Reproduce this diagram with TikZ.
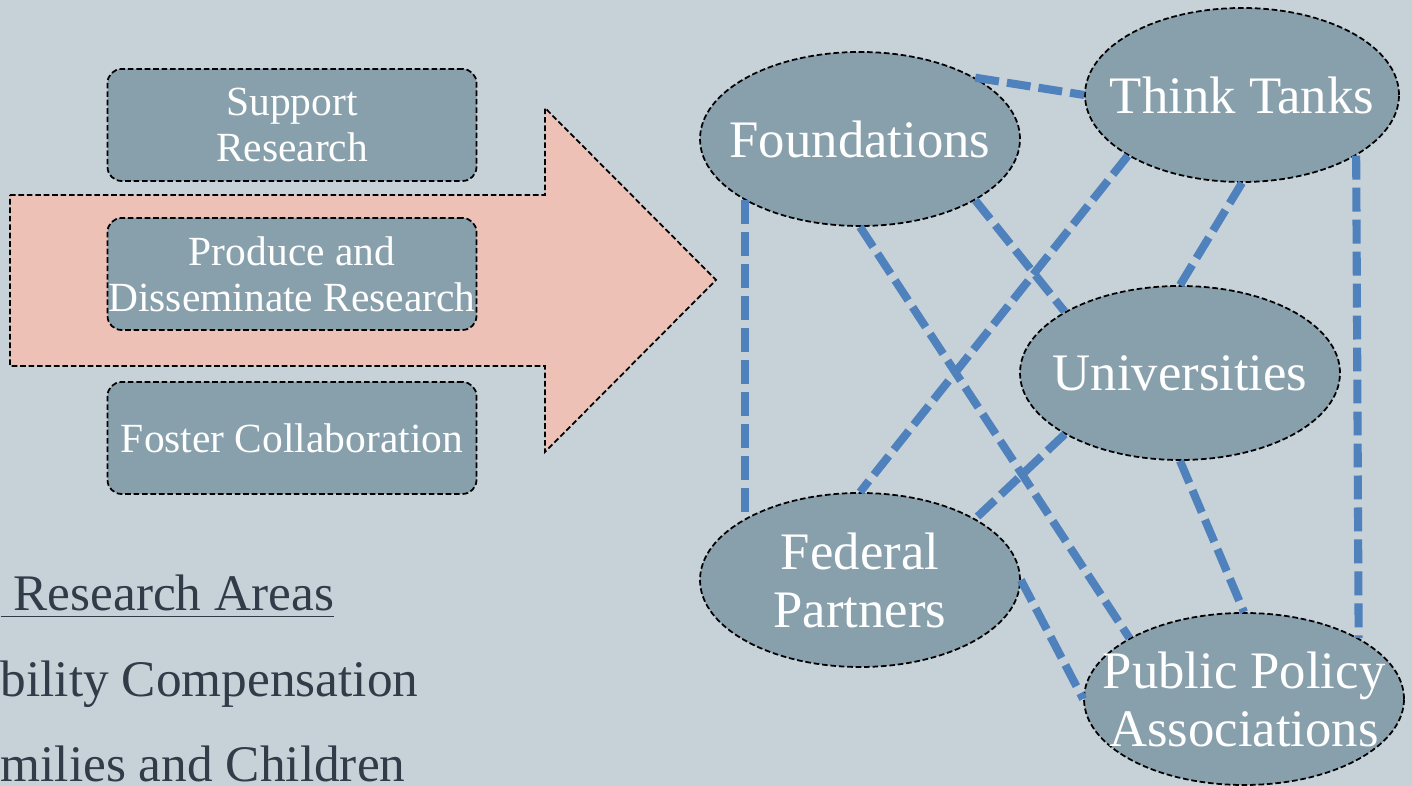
\documentclass[tikz,border=0pt]{standalone}
\usepackage{fontspec}
\setmainfont{Liberation Serif}
\usetikzlibrary{shapes.geometric}
\definecolor{bgcol}{HTML}{C6D1D8}
\definecolor{boxcol}{HTML}{87A0AC}
\definecolor{arrowcol}{HTML}{EEC1B6}
\definecolor{linkcol}{HTML}{4F81BD}
\definecolor{textcol}{HTML}{333A48}
\begin{document}
\begin{tikzpicture}[
    outline/.style={draw=black, line width=0.5pt, dash pattern=on 1.6pt off 0.8pt},
    box/.style={outline, rounded corners=4pt, fill=boxcol, minimum width=3.69cm, minimum height=1.12cm, inner ysep=0pt, inner xsep=-2pt, align=center, text=white, font=\fontsize{11.8}{13}\selectfont},
    bub/.style={outline, ellipse, fill=boxcol, minimum width=3.2cm, minimum height=1.74cm, inner sep=0pt},
    bubtext/.style={text=white, align=center, inner sep=0pt, font=\fontsize{15}{16.5}\selectfont},
    link/.style={draw=linkcol, line width=2.3pt, dash pattern=on 6.8pt off 2.3pt},
    area/.style={anchor=base west, inner sep=0pt, text=textcol, font=\fontsize{14.6}{18}\selectfont}
]
    % Background and page size
    \fill[bgcol] (0,0) rectangle (14.12,7.86);
    \useasboundingbox (0,0) rectangle (14.12,7.86);

    % Big arrow
    \draw[outline, fill=arrowcol] (0.10,5.91) -- (5.45,5.91) -- (5.45,6.78) -- (7.16,5.06)
        -- (5.45,3.34) -- (5.45,4.20) -- (0.10,4.20) -- cycle;

    % Three roles
    \node[box] (sup) at (2.92,6.61) {Support\\Research};
    \node[box] (prod) at (2.92,5.12) {Produce and\\Disseminate Research};
    \node[box] (fost) at (2.92,3.48) {Foster Collaboration};

    % Research areas
    \node[area] (areas) at (0,1.75) {\underline{\ Research Areas}};
    \node[area] (dis) at (0,0.89) {bility Compensation};
    \node[area] (fam) at (0,0.04) {milies and Children};

    % Partners
    \node[bub, label={[bubtext]center:Foundations}] (found) at (8.60,6.47) {};
    \node[bub, minimum width=3.14cm, label={[bubtext]center:Think Tanks}] (tt) at (12.42,6.91) {};
    \node[bub, label={[bubtext]center:Universities}] (univ) at (11.80,4.13) {};
    \node[bub, label={[bubtext]center:Federal\\Partners}] (fed) at (8.60,2.06) {};
    \node[bub, minimum height=1.72cm, label={[bubtext]center:Public Policy\\Associations}] (ppa) at (12.44,0.87) {};

    % Links
    \draw[link] (found.28) -- (tt.west);
    \draw[link] (found.208) -- (fed.152);
    \draw[link] (found.south) -- (ppa.152);
    \draw[link] (found.332) -- (univ.152);
    \draw[link] (tt.208) -- (fed.north);
    \draw[link] (tt.south) -- (univ.north);
    \draw[link] (tt.332) -- (ppa.28);
    \draw[link] (univ.208) -- (fed.28);
    \draw[link] (univ.south) -- (ppa.north);
    \draw[link] (fed.east) -- (ppa.west);
\end{tikzpicture}
\end{document}
